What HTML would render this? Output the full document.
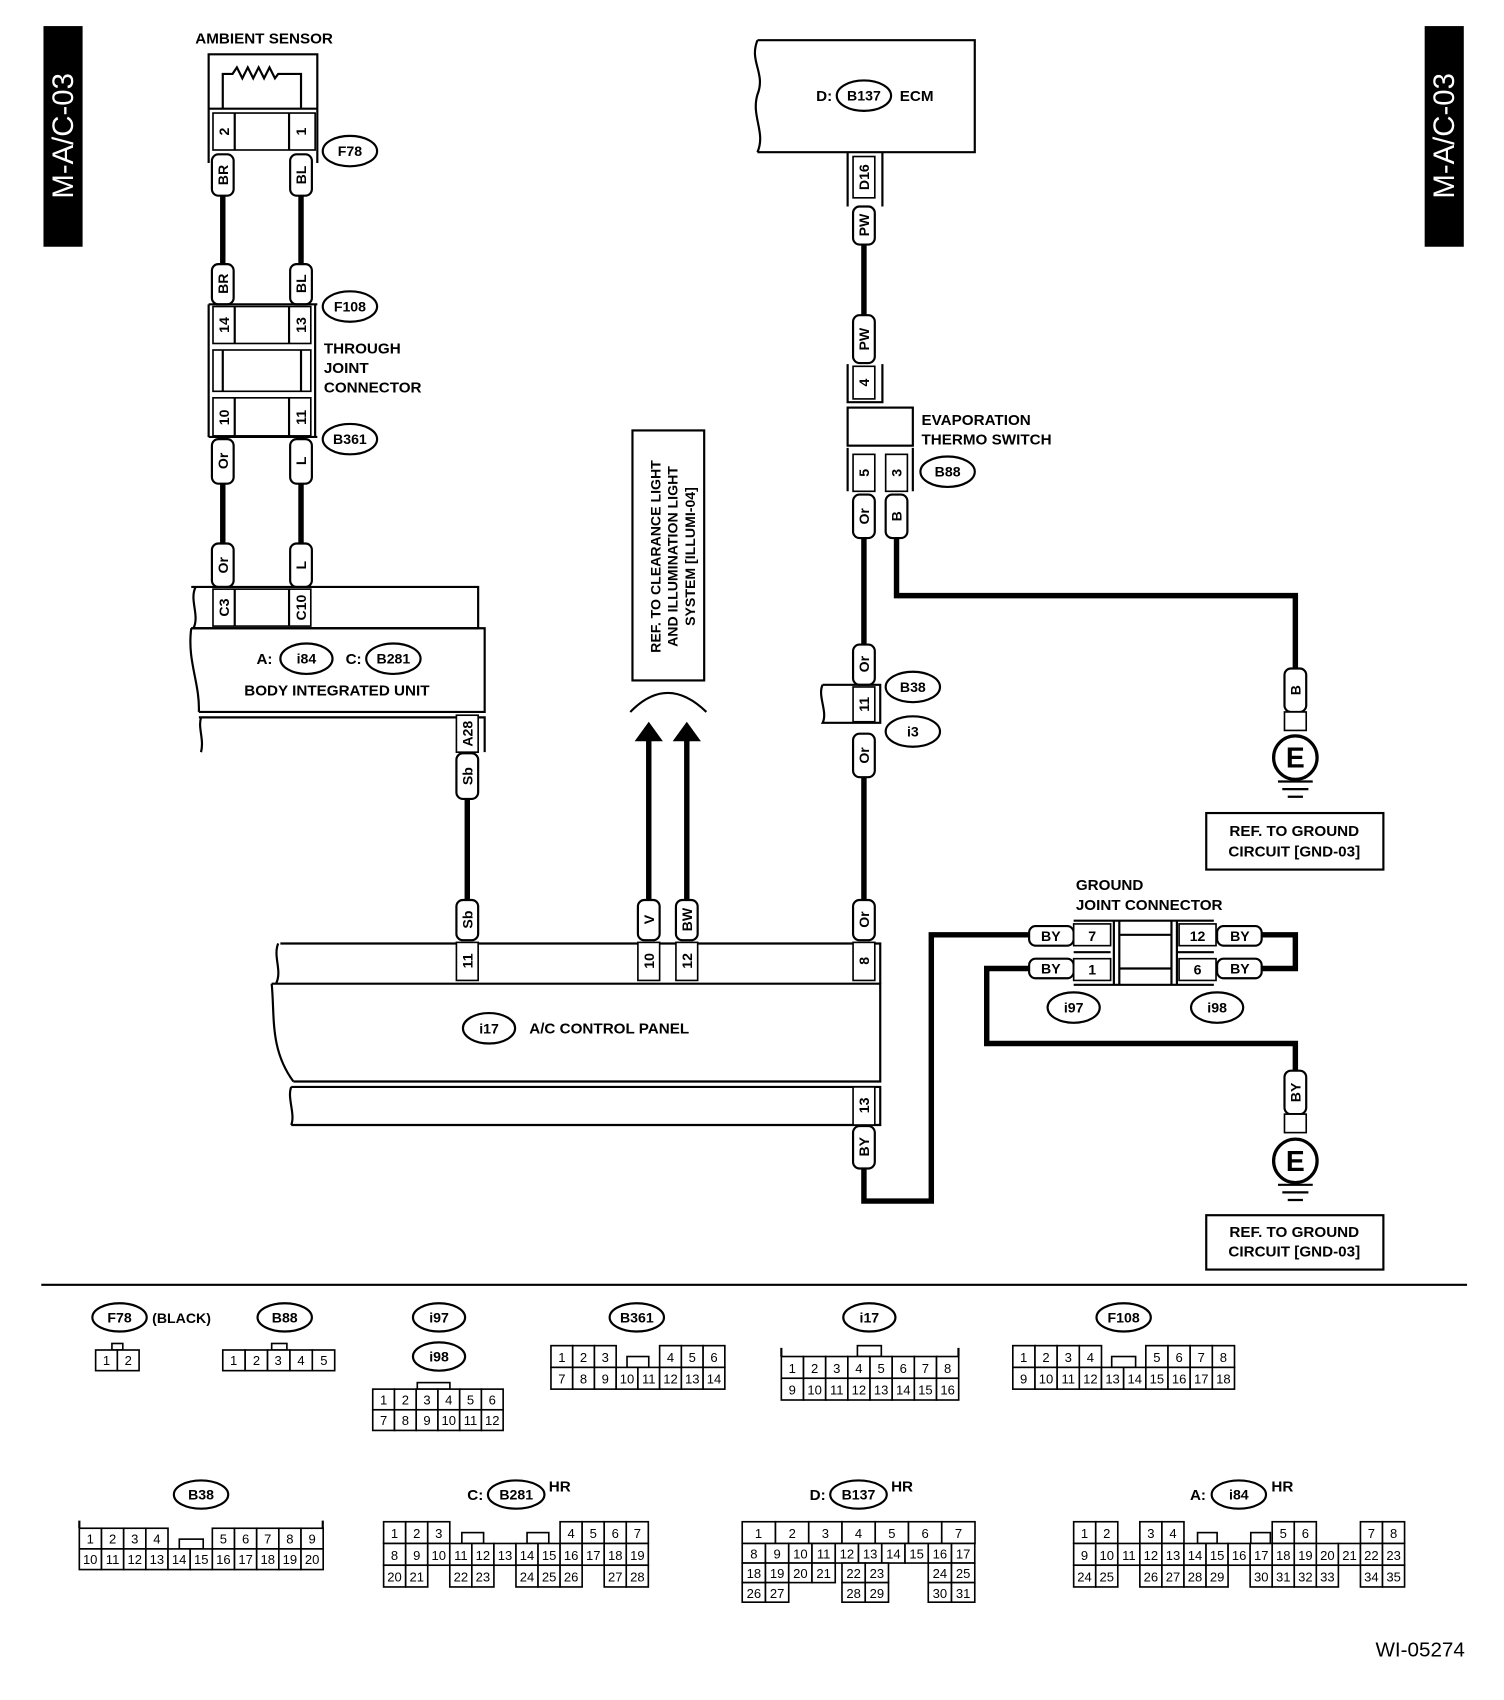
<!DOCTYPE html>
<html><head><meta charset="utf-8"><style>
html,body{margin:0;padding:0;background:#fff}
svg{display:block}
text{font-family:"Liberation Sans",sans-serif;font-weight:bold;fill:#000}
.c{fill:#fff;stroke:#000;stroke-width:1.5}
.n{font-size:12px;font-weight:normal;text-anchor:middle}
.w{stroke:#000;stroke-width:5;fill:none}
.l{stroke:#000;stroke-width:2;fill:none}
.t{fill:#fff;stroke:#000;stroke-width:2}
.tt{font-size:13px;text-anchor:middle;dominant-baseline:central}
.lb{font-size:14px}
.e{fill:#fff;stroke:#000;stroke-width:2}
</style></head><body>
<svg width="1504" height="1700" viewBox="0 0 1384 1564" preserveAspectRatio="none" xmlns="http://www.w3.org/2000/svg">
<rect x="40" y="24" width="36" height="203" fill="#000"/>
<text transform="translate(67,125) rotate(-90)" text-anchor="middle" style="font-size:27px;font-weight:normal;fill:#fff">M-A/C-03</text>
<rect x="1311" y="24" width="36" height="203" fill="#000"/>
<text transform="translate(1338,125) rotate(-90)" text-anchor="middle" style="font-size:27px;font-weight:normal;fill:#fff">M-A/C-03</text>

<g class="w">
<path d="M205 180V243M277 180V243M205 445V500M277 445V500"/>
<path d="M430 735V828"/>
<path d="M597 865V680M632 865V680"/>
<path d="M795 225V290M795 495V593M795 715V828"/>
<path d="M825 495V548H1192V615"/>
<path d="M795 1075V1105H857V860H948"/>
<path d="M1160 860H1192V891H1160"/>
<path d="M948 891H908V960H1192V985"/>
</g>

<text x="243" y="40" class="lb" text-anchor="middle">AMBIENT SENSOR</text>
<path class="l" d="M192 150V50H292V150"/>
<path class="l" d="M205 100V68H214l4-6 5 10 5-10 5 10 5-10 5 10 5-10 5 10 3-4H277V100"/>
<rect class="c" x="196" y="104" width="94" height="34"/>
<path class="l" d="M216 104V138M266 104V138M192 100H292"/>
<text transform="translate(206,121) rotate(-90)" class="tt">2</text>
<text transform="translate(277,121) rotate(-90)" class="tt">1</text>
<ellipse class="e" cx="322" cy="139" rx="25" ry="14"/><text x="322" y="139" class="tt">F78</text>

<g>
<rect class="t" x="195" y="142" width="20" height="38" rx="6"/><text transform="translate(205,161) rotate(-90)" class="tt">BR</text>
<rect class="t" x="267" y="142" width="20" height="38" rx="6"/><text transform="translate(277,161) rotate(-90)" class="tt">BL</text>
<rect class="t" x="195" y="243" width="20" height="37" rx="6"/><text transform="translate(205,261) rotate(-90)" class="tt">BR</text>
<rect class="t" x="267" y="243" width="20" height="37" rx="6"/><text transform="translate(277,261) rotate(-90)" class="tt">BL</text>
<rect class="t" x="195" y="404" width="20" height="41" rx="6"/><text transform="translate(205,424) rotate(-90)" class="tt">Or</text>
<rect class="t" x="267" y="404" width="20" height="41" rx="6"/><text transform="translate(277,424) rotate(-90)" class="tt">L</text>
<rect class="t" x="195" y="500" width="20" height="40" rx="6"/><text transform="translate(205,520) rotate(-90)" class="tt">Or</text>
<rect class="t" x="267" y="500" width="20" height="40" rx="6"/><text transform="translate(277,520) rotate(-90)" class="tt">L</text>
<rect class="t" x="420" y="693" width="20" height="42" rx="6"/><text transform="translate(430,714) rotate(-90)" class="tt">Sb</text>
<rect class="t" x="420" y="828" width="20" height="37" rx="6"/><text transform="translate(430,846) rotate(-90)" class="tt">Sb</text>
<rect class="t" x="587" y="828" width="20" height="37" rx="6"/><text transform="translate(597,846) rotate(-90)" class="tt">V</text>
<rect class="t" x="622" y="828" width="20" height="37" rx="6"/><text transform="translate(632,846) rotate(-90)" class="tt">BW</text>
<rect class="t" x="785" y="828" width="20" height="37" rx="6"/><text transform="translate(795,846) rotate(-90)" class="tt">Or</text>
<rect class="t" x="785" y="190" width="20" height="35" rx="6"/><text transform="translate(795,207) rotate(-90)" class="tt">PW</text>
<rect class="t" x="785" y="290" width="20" height="44" rx="6"/><text transform="translate(795,312) rotate(-90)" class="tt">PW</text>
<rect class="t" x="785" y="455" width="20" height="40" rx="6"/><text transform="translate(795,475) rotate(-90)" class="tt">Or</text>
<rect class="t" x="815" y="455" width="20" height="40" rx="6"/><text transform="translate(825,475) rotate(-90)" class="tt">B</text>
<rect class="t" x="785" y="593" width="20" height="37" rx="6"/><text transform="translate(795,611) rotate(-90)" class="tt">Or</text>
<rect class="t" x="785" y="675" width="20" height="40" rx="6"/><text transform="translate(795,695) rotate(-90)" class="tt">Or</text>
<rect class="t" x="785" y="1036" width="20" height="39" rx="6"/><text transform="translate(795,1055) rotate(-90)" class="tt">BY</text>
<rect class="t" x="1182" y="615" width="20" height="40" rx="6"/><text transform="translate(1192,635) rotate(-90)" class="tt">B</text>
<rect class="t" x="1182" y="985" width="20" height="40" rx="6"/><text transform="translate(1192,1005) rotate(-90)" class="tt">BY</text>
<rect class="t" x="947" y="852" width="41" height="18" rx="6"/><text x="967" y="861" class="tt">BY</text>
<rect class="t" x="947" y="882" width="41" height="18" rx="6"/><text x="967" y="891" class="tt">BY</text>
<rect class="t" x="1120" y="852" width="41" height="18" rx="6"/><text x="1141" y="861" class="tt">BY</text>
<rect class="t" x="1120" y="882" width="41" height="18" rx="6"/><text x="1141" y="891" class="tt">BY</text>
</g>

<path class="l" d="M192 280H292M192 280V402M290 280V402M192 402H292"/>
<rect class="c" x="196" y="282" width="90" height="34"/>
<path class="l" d="M216 282V316M266 282V316"/>
<text transform="translate(206,299) rotate(-90)" class="tt">14</text>
<text transform="translate(277,299) rotate(-90)" class="tt">13</text>
<rect class="c" x="196" y="322" width="90" height="38"/>
<path class="l" d="M205 322V360M277 322V360"/>
<rect class="c" x="196" y="366" width="90" height="35"/>
<path class="l" d="M216 366V401M266 366V401"/>
<text transform="translate(206,384) rotate(-90)" class="tt">10</text>
<text transform="translate(277,384) rotate(-90)" class="tt">11</text>
<ellipse class="e" cx="322" cy="282" rx="25" ry="14"/><text x="322" y="282" class="tt">F108</text>
<ellipse class="e" cx="322" cy="404" rx="25" ry="14"/><text x="322" y="404" class="tt">B361</text>
<text x="298" y="325" class="lb">THROUGH</text>
<text x="298" y="343" class="lb">JOINT</text>
<text x="298" y="361" class="lb">CONNECTOR</text>

<path class="l" d="M176 540H440V578H176M180 540c-6 12 4 26 -2 38"/>
<rect class="c" x="196" y="542" width="90" height="34"/>
<path class="l" d="M216 542V576M266 542V576"/>
<text transform="translate(206,559) rotate(-90)" class="tt">C3</text>
<text transform="translate(277,559) rotate(-90)" class="tt">C10</text>
<path class="l" d="M176 578H446V655H183M176 578c-4 30 8 50 7 77"/>
<text x="236" y="611" class="lb">A:</text>
<ellipse class="e" cx="282" cy="606" rx="24" ry="14"/><text x="282" y="606" class="tt">i84</text>
<text x="318" y="611" class="lb">C:</text>
<ellipse class="e" cx="362" cy="606" rx="25" ry="14"/><text x="362" y="606" class="tt">B281</text>
<text x="310" y="640" class="lb" text-anchor="middle">BODY INTEGRATED UNIT</text>
<path class="l" d="M183 660H446V692M185 660c-3 10 3 20 0 32"/>
<rect class="c" x="420" y="658" width="20" height="34"/>
<text transform="translate(430,675) rotate(-90)" class="tt">A28</text>

<rect x="582" y="396" width="66" height="230" fill="#fff" stroke="#000" stroke-width="2"/>
<text transform="translate(603,512) rotate(-90)" class="tt" style="font-size:13px">REF. TO CLEARANCE LIGHT</text>
<text transform="translate(619,512) rotate(-90)" class="tt" style="font-size:13px">AND ILLUMINATION LIGHT</text>
<text transform="translate(635,512) rotate(-90)" class="tt" style="font-size:13px">SYSTEM [ILLUMI-04]</text>
<path class="l" d="M580 655Q614 620 650 655"/>
<polygon points="584,682 597,664 610,682"/>
<polygon points="619,682 632,664 645,682"/>

<path class="l" d="M258 868H810V905M256 868c-5 12 4 25 -2 37"/>
<path class="l" d="M250 905H810V995H270M250 905c3 30 -2 60 20 90"/>
<path class="l" d="M268 1000H810V1035H268M268 1000c-4 10 4 25 0 35"/>
<g>
<rect class="c" x="420" y="867" width="20" height="35"/><text transform="translate(430,884) rotate(-90)" class="tt">11</text>
<rect class="c" x="587" y="867" width="20" height="35"/><text transform="translate(597,884) rotate(-90)" class="tt">10</text>
<rect class="c" x="622" y="867" width="20" height="35"/><text transform="translate(632,884) rotate(-90)" class="tt">12</text>
<rect class="c" x="785" y="867" width="20" height="35"/><text transform="translate(795,884) rotate(-90)" class="tt">8</text>
<rect class="c" x="785" y="1000" width="20" height="35"/><text transform="translate(795,1017) rotate(-90)" class="tt">13</text>
</g>
<ellipse class="e" cx="450" cy="946" rx="24" ry="14"/><text x="450" y="946" class="tt">i17</text>
<text x="487" y="951" class="lb">A/C CONTROL PANEL</text>

<path class="l" d="M697 37H897V140H697M697 37c-8 20 8 30 0 50c-6 20 8 35 0 53"/>
<text x="751" y="93" class="lb">D:</text>
<ellipse class="e" cx="795" cy="88" rx="25" ry="14"/><text x="795" y="88" class="tt">B137</text>
<text x="828" y="93" class="lb">ECM</text>
<path class="l" d="M780 140V190M812 140V190"/>
<rect class="c" x="785" y="144" width="20" height="38"/><text transform="translate(795,163) rotate(-90)" class="tt">D16</text>

<path class="l" d="M780 335V370H812V335"/>
<rect class="c" x="785" y="337" width="20" height="30"/><text transform="translate(795,352) rotate(-90)" class="tt">4</text>
<rect x="780" y="375" width="60" height="35" fill="#fff" stroke="#000" stroke-width="2"/>
<path class="l" d="M780 412V452M840 412V452"/>
<rect class="c" x="785" y="418" width="20" height="34"/><text transform="translate(795,435) rotate(-90)" class="tt">5</text>
<rect class="c" x="815" y="418" width="20" height="34"/><text transform="translate(825,435) rotate(-90)" class="tt">3</text>
<text x="848" y="391" class="lb">EVAPORATION</text>
<text x="848" y="409" class="lb">THERMO SWITCH</text>
<ellipse class="e" cx="872" cy="434" rx="25" ry="14"/><text x="872" y="434" class="tt">B88</text>

<path class="l" d="M757 630H810V665H757c5-10 -5-25 0-35"/>
<rect class="c" x="785" y="632" width="20" height="32"/><text transform="translate(795,648) rotate(-90)" class="tt">11</text>
<ellipse class="e" cx="840" cy="632" rx="25" ry="14"/><text x="840" y="632" class="tt">B38</text>
<ellipse class="e" cx="840" cy="673" rx="25" ry="14"/><text x="840" y="673" class="tt">i3</text>

<rect class="c" x="1182" y="655" width="20" height="17"/>
<circle cx="1192" cy="697" r="20" fill="#fff" stroke="#000" stroke-width="3"/>
<text x="1192" y="697" class="tt" style="font-size:26px">E</text>
<path class="l" d="M1176 719H1208M1180 726H1204M1185 733H1199"/>
<rect x="1110" y="748" width="163" height="52" fill="#fff" stroke="#000" stroke-width="2"/>
<text x="1191" y="769" class="lb" text-anchor="middle">REF. TO GROUND</text>
<text x="1191" y="788" class="lb" text-anchor="middle">CIRCUIT [GND-03]</text>

<rect class="c" x="1182" y="1025" width="20" height="17"/>
<circle cx="1192" cy="1068" r="20" fill="#fff" stroke="#000" stroke-width="3"/>
<text x="1192" y="1068" class="tt" style="font-size:26px">E</text>
<path class="l" d="M1176 1090H1208M1180 1097H1204M1185 1104H1199"/>
<rect x="1110" y="1118" width="163" height="50" fill="#fff" stroke="#000" stroke-width="2"/>
<text x="1191" y="1138" class="lb" text-anchor="middle">REF. TO GROUND</text>
<text x="1191" y="1156" class="lb" text-anchor="middle">CIRCUIT [GND-03]</text>

<text x="990" y="819" class="lb">GROUND</text>
<text x="990" y="837" class="lb">JOINT CONNECTOR</text>
<path class="l" d="M988 847H1117M988 906H1117"/>
<rect class="c" x="988" y="850" width="34" height="20"/><text x="1005" y="861" class="tt">7</text>
<rect class="c" x="988" y="882" width="34" height="20"/><text x="1005" y="892" class="tt">1</text>
<path class="l" d="M988 876H1022M1025 847V906M1030 847V906M1078 847V906M1083 847V906M1030 860H1078M1030 891H1078M1083 876H1117"/>
<rect class="c" x="1085" y="850" width="34" height="20"/><text x="1102" y="861" class="tt">12</text>
<rect class="c" x="1085" y="882" width="34" height="20"/><text x="1102" y="892" class="tt">6</text>
<ellipse class="e" cx="988" cy="927" rx="24" ry="14"/><text x="988" y="927" class="tt">i97</text>
<ellipse class="e" cx="1120" cy="927" rx="24" ry="14"/><text x="1120" y="927" class="tt">i98</text>

<path d="M38 1182H1350" stroke="#000" stroke-width="2"/>

<g>
<ellipse class="e" cx="110" cy="1212" rx="25" ry="13"/><text x="110" y="1212" class="tt">F78</text>
<text x="140" y="1217" class="lb" style="font-size:13px">(BLACK)</text>
<rect class="c" x="103" y="1236" width="10" height="6"/>
<rect class="c" x="88" y="1242" width="20" height="19"/><text x="98" y="1256" class="n">1</text>
<rect class="c" x="108" y="1242" width="20" height="19"/><text x="118" y="1256" class="n">2</text>

<ellipse class="e" cx="262" cy="1212" rx="25" ry="13"/><text x="262" y="1212" class="tt">B88</text>
<rect class="c" x="250" y="1236" width="14" height="6"/>
<rect class="c" x="205" y="1242" width="20.6" height="19"/><text x="215" y="1256" class="n">1</text>
<rect class="c" x="225.6" y="1242" width="20.6" height="19"/><text x="236" y="1256" class="n">2</text>
<rect class="c" x="246.2" y="1242" width="20.6" height="19"/><text x="256" y="1256" class="n">3</text>
<rect class="c" x="266.8" y="1242" width="20.6" height="19"/><text x="277" y="1256" class="n">4</text>
<rect class="c" x="287.4" y="1242" width="20.6" height="19"/><text x="298" y="1256" class="n">5</text>

<ellipse class="e" cx="404" cy="1212" rx="24" ry="13"/><text x="404" y="1212" class="tt">i97</text>
<ellipse class="e" cx="404" cy="1248" rx="24" ry="13"/><text x="404" y="1248" class="tt">i98</text>
<rect class="c" x="384" y="1272" width="30" height="6"/>
<g transform="translate(343,1278)">
<rect class="c" x="0" y="0" width="20" height="19"/><text x="10" y="14" class="n">1</text>
<rect class="c" x="20" y="0" width="20" height="19"/><text x="30" y="14" class="n">2</text>
<rect class="c" x="40" y="0" width="20" height="19"/><text x="50" y="14" class="n">3</text>
<rect class="c" x="60" y="0" width="20" height="19"/><text x="70" y="14" class="n">4</text>
<rect class="c" x="80" y="0" width="20" height="19"/><text x="90" y="14" class="n">5</text>
<rect class="c" x="100" y="0" width="20" height="19"/><text x="110" y="14" class="n">6</text>
<rect class="c" x="0" y="19" width="20" height="19"/><text x="10" y="33" class="n">7</text>
<rect class="c" x="20" y="19" width="20" height="19"/><text x="30" y="33" class="n">8</text>
<rect class="c" x="40" y="19" width="20" height="19"/><text x="50" y="33" class="n">9</text>
<rect class="c" x="60" y="19" width="20" height="19"/><text x="70" y="33" class="n">10</text>
<rect class="c" x="80" y="19" width="20" height="19"/><text x="90" y="33" class="n">11</text>
<rect class="c" x="100" y="19" width="20" height="19"/><text x="110" y="33" class="n">12</text>
</g>

<ellipse class="e" cx="586" cy="1212" rx="25" ry="13"/><text x="586" y="1212" class="tt">B361</text>
<g transform="translate(507,1238)">
<rect class="c" x="70" y="10" width="20" height="10"/>
<rect class="c" x="0" y="0" width="20" height="20"/><text x="10" y="15" class="n">1</text>
<rect class="c" x="20" y="0" width="20" height="20"/><text x="30" y="15" class="n">2</text>
<rect class="c" x="40" y="0" width="20" height="20"/><text x="50" y="15" class="n">3</text>
<rect class="c" x="100" y="0" width="20" height="20"/><text x="110" y="15" class="n">4</text>
<rect class="c" x="120" y="0" width="20" height="20"/><text x="130" y="15" class="n">5</text>
<rect class="c" x="140" y="0" width="20" height="20"/><text x="150" y="15" class="n">6</text>
<rect class="c" x="0" y="20" width="20" height="20"/><text x="10" y="35" class="n">7</text>
<rect class="c" x="20" y="20" width="20" height="20"/><text x="30" y="35" class="n">8</text>
<rect class="c" x="40" y="20" width="20" height="20"/><text x="50" y="35" class="n">9</text>
<rect class="c" x="60" y="20" width="20" height="20"/><text x="70" y="35" class="n">10</text>
<rect class="c" x="80" y="20" width="20" height="20"/><text x="90" y="35" class="n">11</text>
<rect class="c" x="100" y="20" width="20" height="20"/><text x="110" y="35" class="n">12</text>
<rect class="c" x="120" y="20" width="20" height="20"/><text x="130" y="35" class="n">13</text>
<rect class="c" x="140" y="20" width="20" height="20"/><text x="150" y="35" class="n">14</text>
</g>

<ellipse class="e" cx="800" cy="1212" rx="24" ry="13"/><text x="800" y="1212" class="tt">i17</text>
<g transform="translate(719,1248)">
<path class="l" d="M0 -8V0M163 -8V0"/>
<rect class="c" x="70" y="-10" width="22" height="10"/>
<rect class="c" x="0" y="0" width="20.4" height="20"/><text x="10" y="15" class="n">1</text>
<rect class="c" x="20.4" y="0" width="20.4" height="20"/><text x="30.6" y="15" class="n">2</text>
<rect class="c" x="40.8" y="0" width="20.4" height="20"/><text x="51" y="15" class="n">3</text>
<rect class="c" x="61.2" y="0" width="20.4" height="20"/><text x="71.4" y="15" class="n">4</text>
<rect class="c" x="81.6" y="0" width="20.4" height="20"/><text x="91.8" y="15" class="n">5</text>
<rect class="c" x="102" y="0" width="20.4" height="20"/><text x="112.2" y="15" class="n">6</text>
<rect class="c" x="122.4" y="0" width="20.4" height="20"/><text x="132.6" y="15" class="n">7</text>
<rect class="c" x="142.8" y="0" width="20.4" height="20"/><text x="153" y="15" class="n">8</text>
<rect class="c" x="0" y="20" width="20.4" height="20"/><text x="10" y="35" class="n">9</text>
<rect class="c" x="20.4" y="20" width="20.4" height="20"/><text x="30.6" y="35" class="n">10</text>
<rect class="c" x="40.8" y="20" width="20.4" height="20"/><text x="51" y="35" class="n">11</text>
<rect class="c" x="61.2" y="20" width="20.4" height="20"/><text x="71.4" y="35" class="n">12</text>
<rect class="c" x="81.6" y="20" width="20.4" height="20"/><text x="91.8" y="35" class="n">13</text>
<rect class="c" x="102" y="20" width="20.4" height="20"/><text x="112.2" y="35" class="n">14</text>
<rect class="c" x="122.4" y="20" width="20.4" height="20"/><text x="132.6" y="35" class="n">15</text>
<rect class="c" x="142.8" y="20" width="20.4" height="20"/><text x="153" y="35" class="n">16</text>
</g>

<ellipse class="e" cx="1034" cy="1212" rx="25" ry="13"/><text x="1034" y="1212" class="tt">F108</text>
<g transform="translate(932,1238)">
<rect class="c" x="91" y="10" width="22" height="10"/>
<rect class="c" x="0" y="0" width="20.4" height="20"/><text x="10" y="15" class="n">1</text>
<rect class="c" x="20.4" y="0" width="20.4" height="20"/><text x="30.6" y="15" class="n">2</text>
<rect class="c" x="40.8" y="0" width="20.4" height="20"/><text x="51" y="15" class="n">3</text>
<rect class="c" x="61.2" y="0" width="20.4" height="20"/><text x="71.4" y="15" class="n">4</text>
<rect class="c" x="122.4" y="0" width="20.4" height="20"/><text x="132.6" y="15" class="n">5</text>
<rect class="c" x="142.8" y="0" width="20.4" height="20"/><text x="153" y="15" class="n">6</text>
<rect class="c" x="163.2" y="0" width="20.4" height="20"/><text x="173.4" y="15" class="n">7</text>
<rect class="c" x="183.6" y="0" width="20.4" height="20"/><text x="193.8" y="15" class="n">8</text>
<rect class="c" x="0" y="20" width="20.4" height="20"/><text x="10" y="35" class="n">9</text>
<rect class="c" x="20.4" y="20" width="20.4" height="20"/><text x="30.6" y="35" class="n">10</text>
<rect class="c" x="40.8" y="20" width="20.4" height="20"/><text x="51" y="35" class="n">11</text>
<rect class="c" x="61.2" y="20" width="20.4" height="20"/><text x="71.4" y="35" class="n">12</text>
<rect class="c" x="81.6" y="20" width="20.4" height="20"/><text x="91.8" y="35" class="n">13</text>
<rect class="c" x="102" y="20" width="20.4" height="20"/><text x="112.2" y="35" class="n">14</text>
<rect class="c" x="122.4" y="20" width="20.4" height="20"/><text x="132.6" y="35" class="n">15</text>
<rect class="c" x="142.8" y="20" width="20.4" height="20"/><text x="153" y="35" class="n">16</text>
<rect class="c" x="163.2" y="20" width="20.4" height="20"/><text x="173.4" y="35" class="n">17</text>
<rect class="c" x="183.6" y="20" width="20.4" height="20"/><text x="193.8" y="35" class="n">18</text>
</g>

<ellipse class="e" cx="185" cy="1375" rx="25" ry="13"/><text x="185" y="1375" class="tt">B38</text>
<g transform="translate(73,1406)">
<path class="l" d="M0 -7V0M224 -7V0"/>
<rect class="c" x="92" y="10" width="22" height="9"/>
<rect class="c" x="0" y="0" width="20.4" height="19"/><text x="10" y="14" class="n">1</text>
<rect class="c" x="20.4" y="0" width="20.4" height="19"/><text x="30.6" y="14" class="n">2</text>
<rect class="c" x="40.8" y="0" width="20.4" height="19"/><text x="51" y="14" class="n">3</text>
<rect class="c" x="61.2" y="0" width="20.4" height="19"/><text x="71.4" y="14" class="n">4</text>
<rect class="c" x="122.4" y="0" width="20.4" height="19"/><text x="132.6" y="14" class="n">5</text>
<rect class="c" x="142.8" y="0" width="20.4" height="19"/><text x="153" y="14" class="n">6</text>
<rect class="c" x="163.2" y="0" width="20.4" height="19"/><text x="173.4" y="14" class="n">7</text>
<rect class="c" x="183.6" y="0" width="20.4" height="19"/><text x="193.8" y="14" class="n">8</text>
<rect class="c" x="204" y="0" width="20.4" height="19"/><text x="214.2" y="14" class="n">9</text>
<rect class="c" x="0" y="19" width="20.4" height="19"/><text x="10" y="33" class="n">10</text>
<rect class="c" x="20.4" y="19" width="20.4" height="19"/><text x="30.6" y="33" class="n">11</text>
<rect class="c" x="40.8" y="19" width="20.4" height="19"/><text x="51" y="33" class="n">12</text>
<rect class="c" x="61.2" y="19" width="20.4" height="19"/><text x="71.4" y="33" class="n">13</text>
<rect class="c" x="81.6" y="19" width="20.4" height="19"/><text x="91.8" y="33" class="n">14</text>
<rect class="c" x="102" y="19" width="20.4" height="19"/><text x="112.2" y="33" class="n">15</text>
<rect class="c" x="122.4" y="19" width="20.4" height="19"/><text x="132.6" y="33" class="n">16</text>
<rect class="c" x="142.8" y="19" width="20.4" height="19"/><text x="153" y="33" class="n">17</text>
<rect class="c" x="163.2" y="19" width="20.4" height="19"/><text x="173.4" y="33" class="n">18</text>
<rect class="c" x="183.6" y="19" width="20.4" height="19"/><text x="193.8" y="33" class="n">19</text>
<rect class="c" x="204" y="19" width="20.4" height="19"/><text x="214.2" y="33" class="n">20</text>
</g>

<text x="430" y="1380" class="lb">C:</text>
<ellipse class="e" cx="475" cy="1375" rx="26" ry="13"/><text x="475" y="1375" class="tt">B281</text>
<text x="505" y="1372" class="lb">HR</text>
<g transform="translate(353,1400)">
<rect class="c" x="72" y="10" width="20" height="10"/>
<rect class="c" x="132" y="10" width="20" height="10"/>
<rect class="c" x="0" y="0" width="20.3" height="20"/><text x="10" y="15" class="n">1</text>
<rect class="c" x="20.3" y="0" width="20.3" height="20"/><text x="30.5" y="15" class="n">2</text>
<rect class="c" x="40.6" y="0" width="20.3" height="20"/><text x="50.8" y="15" class="n">3</text>
<rect class="c" x="162.4" y="0" width="20.3" height="20"/><text x="172.6" y="15" class="n">4</text>
<rect class="c" x="182.7" y="0" width="20.3" height="20"/><text x="192.9" y="15" class="n">5</text>
<rect class="c" x="203" y="0" width="20.3" height="20"/><text x="213.2" y="15" class="n">6</text>
<rect class="c" x="223.3" y="0" width="20.3" height="20"/><text x="233.5" y="15" class="n">7</text>
<rect class="c" x="0" y="20" width="20.3" height="20"/><text x="10" y="35" class="n">8</text>
<rect class="c" x="20.3" y="20" width="20.3" height="20"/><text x="30.5" y="35" class="n">9</text>
<rect class="c" x="40.6" y="20" width="20.3" height="20"/><text x="50.8" y="35" class="n">10</text>
<rect class="c" x="60.9" y="20" width="20.3" height="20"/><text x="71.1" y="35" class="n">11</text>
<rect class="c" x="81.2" y="20" width="20.3" height="20"/><text x="91.4" y="35" class="n">12</text>
<rect class="c" x="101.5" y="20" width="20.3" height="20"/><text x="111.7" y="35" class="n">13</text>
<rect class="c" x="121.8" y="20" width="20.3" height="20"/><text x="132" y="35" class="n">14</text>
<rect class="c" x="142.1" y="20" width="20.3" height="20"/><text x="152.3" y="35" class="n">15</text>
<rect class="c" x="162.4" y="20" width="20.3" height="20"/><text x="172.6" y="35" class="n">16</text>
<rect class="c" x="182.7" y="20" width="20.3" height="20"/><text x="192.9" y="35" class="n">17</text>
<rect class="c" x="203" y="20" width="20.3" height="20"/><text x="213.2" y="35" class="n">18</text>
<rect class="c" x="223.3" y="20" width="20.3" height="20"/><text x="233.5" y="35" class="n">19</text>
<rect class="c" x="0" y="40" width="20.3" height="20"/><text x="10" y="55" class="n">20</text>
<rect class="c" x="20.3" y="40" width="20.3" height="20"/><text x="30.5" y="55" class="n">21</text>
<rect class="c" x="60.9" y="40" width="20.3" height="20"/><text x="71.1" y="55" class="n">22</text>
<rect class="c" x="81.2" y="40" width="20.3" height="20"/><text x="91.4" y="55" class="n">23</text>
<rect class="c" x="121.8" y="40" width="20.3" height="20"/><text x="132" y="55" class="n">24</text>
<rect class="c" x="142.1" y="40" width="20.3" height="20"/><text x="152.3" y="55" class="n">25</text>
<rect class="c" x="162.4" y="40" width="20.3" height="20"/><text x="172.6" y="55" class="n">26</text>
<rect class="c" x="203" y="40" width="20.3" height="20"/><text x="213.2" y="55" class="n">27</text>
<rect class="c" x="223.3" y="40" width="20.3" height="20"/><text x="233.5" y="55" class="n">28</text>
</g>

<text x="745" y="1380" class="lb">D:</text>
<ellipse class="e" cx="790" cy="1375" rx="26" ry="13"/><text x="790" y="1375" class="tt">B137</text>
<text x="820" y="1372" class="lb">HR</text>
<g transform="translate(683,1400)">
<rect class="c" x="0" y="0" width="30.6" height="20"/><text x="15" y="15" class="n">1</text>
<rect class="c" x="30.6" y="0" width="30.6" height="20"/><text x="46" y="15" class="n">2</text>
<rect class="c" x="61.2" y="0" width="30.6" height="20"/><text x="76.5" y="15" class="n">3</text>
<rect class="c" x="91.8" y="0" width="30.6" height="20"/><text x="107" y="15" class="n">4</text>
<rect class="c" x="122.4" y="0" width="30.6" height="20"/><text x="137.7" y="15" class="n">5</text>
<rect class="c" x="153" y="0" width="30.6" height="20"/><text x="168.3" y="15" class="n">6</text>
<rect class="c" x="183.6" y="0" width="30.6" height="20"/><text x="199" y="15" class="n">7</text>
<rect class="c" x="0" y="20" width="21.4" height="18"/><text x="10.7" y="34" class="n">8</text>
<rect class="c" x="21.4" y="20" width="21.4" height="18"/><text x="32.1" y="34" class="n">9</text>
<rect class="c" x="42.8" y="20" width="21.4" height="18"/><text x="53.5" y="34" class="n">10</text>
<rect class="c" x="64.2" y="20" width="21.4" height="18"/><text x="74.9" y="34" class="n">11</text>
<rect class="c" x="85.6" y="20" width="21.4" height="18"/><text x="96.3" y="34" class="n">12</text>
<rect class="c" x="107" y="20" width="21.4" height="18"/><text x="117.7" y="34" class="n">13</text>
<rect class="c" x="128.4" y="20" width="21.4" height="18"/><text x="139.1" y="34" class="n">14</text>
<rect class="c" x="149.8" y="20" width="21.4" height="18"/><text x="160.5" y="34" class="n">15</text>
<rect class="c" x="171.2" y="20" width="21.4" height="18"/><text x="181.9" y="34" class="n">16</text>
<rect class="c" x="192.6" y="20" width="21.4" height="18"/><text x="203.3" y="34" class="n">17</text>
<rect class="c" x="0" y="38" width="21.4" height="18"/><text x="10.7" y="52" class="n">18</text>
<rect class="c" x="21.4" y="38" width="21.4" height="18"/><text x="32.1" y="52" class="n">19</text>
<rect class="c" x="42.8" y="38" width="21.4" height="18"/><text x="53.5" y="52" class="n">20</text>
<rect class="c" x="64.2" y="38" width="21.4" height="18"/><text x="74.9" y="52" class="n">21</text>
<rect class="c" x="91.8" y="38" width="21.4" height="18"/><text x="102.5" y="52" class="n">22</text>
<rect class="c" x="113.2" y="38" width="21.4" height="18"/><text x="123.9" y="52" class="n">23</text>
<rect class="c" x="171.2" y="38" width="21.4" height="18"/><text x="181.9" y="52" class="n">24</text>
<rect class="c" x="192.6" y="38" width="21.4" height="18"/><text x="203.3" y="52" class="n">25</text>
<rect class="c" x="0" y="56" width="21.4" height="18"/><text x="10.7" y="70" class="n">26</text>
<rect class="c" x="21.4" y="56" width="21.4" height="18"/><text x="32.1" y="70" class="n">27</text>
<rect class="c" x="91.8" y="56" width="21.4" height="18"/><text x="102.5" y="70" class="n">28</text>
<rect class="c" x="113.2" y="56" width="21.4" height="18"/><text x="123.9" y="70" class="n">29</text>
<rect class="c" x="171.2" y="56" width="21.4" height="18"/><text x="181.9" y="70" class="n">30</text>
<rect class="c" x="192.6" y="56" width="21.4" height="18"/><text x="203.3" y="70" class="n">31</text>
</g>

<text x="1095" y="1380" class="lb">A:</text>
<ellipse class="e" cx="1140" cy="1375" rx="25" ry="13"/><text x="1140" y="1375" class="tt">i84</text>
<text x="1170" y="1372" class="lb">HR</text>
<g transform="translate(988,1400)">
<rect class="c" x="114" y="10" width="18" height="10"/>
<rect class="c" x="163" y="10" width="18" height="10"/>
<rect class="c" x="0" y="0" width="20.3" height="20"/><text x="10" y="15" class="n">1</text>
<rect class="c" x="20.3" y="0" width="20.3" height="20"/><text x="30.5" y="15" class="n">2</text>
<rect class="c" x="60.9" y="0" width="20.3" height="20"/><text x="71.1" y="15" class="n">3</text>
<rect class="c" x="81.2" y="0" width="20.3" height="20"/><text x="91.4" y="15" class="n">4</text>
<rect class="c" x="182.7" y="0" width="20.3" height="20"/><text x="192.9" y="15" class="n">5</text>
<rect class="c" x="203" y="0" width="20.3" height="20"/><text x="213.2" y="15" class="n">6</text>
<rect class="c" x="263.9" y="0" width="20.3" height="20"/><text x="274" y="15" class="n">7</text>
<rect class="c" x="284.2" y="0" width="20.3" height="20"/><text x="294.4" y="15" class="n">8</text>
<rect class="c" x="0" y="20" width="20.3" height="20"/><text x="10" y="35" class="n">9</text>
<rect class="c" x="20.3" y="20" width="20.3" height="20"/><text x="30.5" y="35" class="n">10</text>
<rect class="c" x="40.6" y="20" width="20.3" height="20"/><text x="50.8" y="35" class="n">11</text>
<rect class="c" x="60.9" y="20" width="20.3" height="20"/><text x="71.1" y="35" class="n">12</text>
<rect class="c" x="81.2" y="20" width="20.3" height="20"/><text x="91.4" y="35" class="n">13</text>
<rect class="c" x="101.5" y="20" width="20.3" height="20"/><text x="111.7" y="35" class="n">14</text>
<rect class="c" x="121.8" y="20" width="20.3" height="20"/><text x="132" y="35" class="n">15</text>
<rect class="c" x="142.1" y="20" width="20.3" height="20"/><text x="152.3" y="35" class="n">16</text>
<rect class="c" x="162.4" y="20" width="20.3" height="20"/><text x="172.6" y="35" class="n">17</text>
<rect class="c" x="182.7" y="20" width="20.3" height="20"/><text x="192.9" y="35" class="n">18</text>
<rect class="c" x="203" y="20" width="20.3" height="20"/><text x="213.2" y="35" class="n">19</text>
<rect class="c" x="223.3" y="20" width="20.3" height="20"/><text x="233.5" y="35" class="n">20</text>
<rect class="c" x="243.6" y="20" width="20.3" height="20"/><text x="253.8" y="35" class="n">21</text>
<rect class="c" x="263.9" y="20" width="20.3" height="20"/><text x="274" y="35" class="n">22</text>
<rect class="c" x="284.2" y="20" width="20.3" height="20"/><text x="294.4" y="35" class="n">23</text>
<rect class="c" x="0" y="40" width="20.3" height="20"/><text x="10" y="55" class="n">24</text>
<rect class="c" x="20.3" y="40" width="20.3" height="20"/><text x="30.5" y="55" class="n">25</text>
<rect class="c" x="60.9" y="40" width="20.3" height="20"/><text x="71.1" y="55" class="n">26</text>
<rect class="c" x="81.2" y="40" width="20.3" height="20"/><text x="91.4" y="55" class="n">27</text>
<rect class="c" x="101.5" y="40" width="20.3" height="20"/><text x="111.7" y="55" class="n">28</text>
<rect class="c" x="121.8" y="40" width="20.3" height="20"/><text x="132" y="55" class="n">29</text>
<rect class="c" x="162.4" y="40" width="20.3" height="20"/><text x="172.6" y="55" class="n">30</text>
<rect class="c" x="182.7" y="40" width="20.3" height="20"/><text x="192.9" y="55" class="n">31</text>
<rect class="c" x="203" y="40" width="20.3" height="20"/><text x="213.2" y="55" class="n">32</text>
<rect class="c" x="223.3" y="40" width="20.3" height="20"/><text x="233.5" y="55" class="n">33</text>
<rect class="c" x="263.9" y="40" width="20.3" height="20"/><text x="274" y="55" class="n">34</text>
<rect class="c" x="284.2" y="40" width="20.3" height="20"/><text x="294.4" y="55" class="n">35</text>
</g>
</g>

<text x="1348" y="1524" text-anchor="end" style="font-size:19px;font-weight:normal">WI-05274</text>
</svg>
</body></html>
